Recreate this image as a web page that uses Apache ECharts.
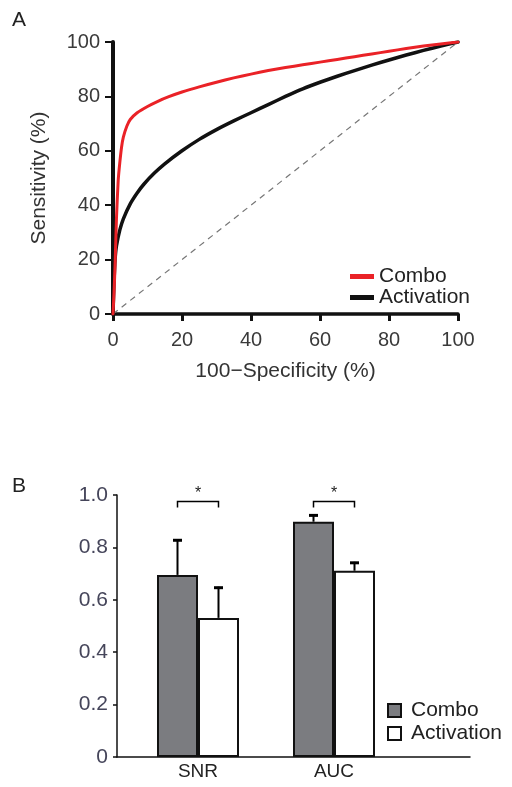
<!DOCTYPE html>
<html>
<head>
<meta charset="utf-8">
<script src="https://cdn.jsdelivr.net/npm/echarts@6/dist/echarts.min.js"></script>
<style>html,body{margin:0;padding:0;background:#fff}#c{width:512px;height:787px}</style>
</head>
<body>
<div id="c"></div>
<script>
// ---- Panel A: ROC curves ----
const comboFpr = [0, 0.3, 0.6, 1, 1.5, 2, 2.5, 3, 4, 5, 7, 10, 13, 16, 20, 25, 30, 35, 40, 45, 50, 55, 60, 65, 70, 75, 80, 85, 90, 95, 100];
const comboTpr = [0, 8, 18, 35, 49, 56, 61.5, 65, 69, 71.5, 74, 76.3, 78.2, 79.8, 81.6, 83.5, 85.2, 86.8, 88.2, 89.5, 90.6, 91.6, 92.6, 93.6, 94.6, 95.6, 96.6, 97.6, 98.5, 99.3, 100];
const actFpr = [0, 0.3, 0.6, 1, 2, 3, 5, 7, 9, 12, 15, 20, 25, 30, 35, 40, 45, 50, 55, 60, 65, 70, 75, 80, 85, 90, 95, 100];
const actTpr = [0, 12, 20, 25, 31, 35, 40.5, 44.5, 47.8, 51.8, 55.2, 60, 64.2, 67.8, 71, 74, 77, 80, 82.8, 85.2, 87.4, 89.5, 91.5, 93.4, 95.2, 96.9, 98.5, 100];
const chanceX = [0, 100];
const chanceY = [0, 100];
const rocTicks = [0, 20, 40, 60, 80, 100];

// ---- Panel B: bars ----
const categories = ['SNR', 'AUC'];
const comboMean = [0.695, 0.898];
const comboErr = [0.136, 0.028];
const actMean = [0.531, 0.711];
const actErr = [0.119, 0.034];
const sigLevel = [0.975, 0.975];
const sigMark = ['*', '*'];
const barTicks = [0, 0.2, 0.4, 0.6, 0.8, 1.0];

const zip = (a, b) => a.map((v, i) => [v, b[i]]);
const FONT = 'Liberation Sans, Arial, sans-serif';
const BW = 41;

function errRender(off) {
  return function (params, api) {
    const i = api.value(0), m = api.value(1), e = api.value(2);
    const base = api.coord([i, m]);
    const top = api.coord([i, m + e]);
    const x = base[0] + off;
    return {
      type: 'group',
      children: [
        { type: 'line', shape: { x1: x, y1: base[1], x2: x, y2: top[1] }, style: { stroke: '#000', lineWidth: 2 } },
        { type: 'line', shape: { x1: x - 4.5, y1: top[1] + 1, x2: x + 4.5, y2: top[1] + 1 }, style: { stroke: '#000', lineWidth: 3 } }
      ]
    };
  };
}

function sigRender(params, api) {
  const i = api.value(0), y = api.value(1);
  const c = api.coord([i, y]);
  const xl = c[0] - BW / 2, xr = c[0] + BW / 2;
  return {
    type: 'group',
    children: [
      { type: 'polyline', shape: { points: [[xl, c[1] + 6], [xl, c[1]], [xr, c[1]], [xr, c[1] + 6]] }, style: { stroke: '#000', lineWidth: 1.5, fill: null } },
      { type: 'text', style: { text: sigMark[params.dataIndex], x: c[0], y: c[1] - 8, align: 'center', verticalAlign: 'middle', font: '16px ' + FONT, fill: '#222' } }
    ]
  };
}

const chart = echarts.init(document.getElementById('c'), null, { renderer: 'canvas' });
chart.setOption({
  animation: false,
  backgroundColor: '#fff',
  textStyle: { fontFamily: FONT },
  title: [
    { text: 'A', left: 7, top: 5, textStyle: { fontSize: 21, fontWeight: 'normal', color: '#222', fontFamily: FONT } },
    { text: 'B', left: 7, top: 471, textStyle: { fontSize: 21, fontWeight: 'normal', color: '#222', fontFamily: FONT } }
  ],
  legend: [
    {
      data: ['Combo', 'Activation'], orient: 'vertical', left: 350, top: 266, padding: 0,
      itemWidth: 24, itemHeight: 5, itemGap: 0, icon: 'rect',
      textStyle: { fontSize: 21, lineHeight: 18, color: '#222', fontFamily: FONT }
    },
    {
      data: ['Combo bar', 'Activation bar'], orient: 'vertical', left: 387, top: 699, padding: 0,
      itemWidth: 13, itemHeight: 13, itemGap: 0, icon: 'rect',
      formatter: n => n.replace(' bar', ''),
      textStyle: { fontSize: 21, lineHeight: 23, color: '#222', fontFamily: FONT, padding: [0, 0, 0, 5] }
    }
  ],
  grid: [
    { left: 113, top: 42, width: 345, height: 272 },
    { left: 130, top: 495, width: 272, height: 262 },
    { left: 117, top: 495, width: 353, height: 262 }
  ],
  xAxis: [
    {
      gridIndex: 0, type: 'value', min: 0, max: 100, interval: 20,
      name: '100\u2212Specificity (%)', nameLocation: 'middle', nameGap: 47,
      nameTextStyle: { fontSize: 21, color: '#333', fontFamily: FONT },
      axisLine: { lineStyle: { color: '#111', width: 3.5 } },
      axisTick: { length: 7, lineStyle: { color: '#111', width: 3 } },
      axisLabel: { fontSize: 20, color: '#3a3a3a', margin: 16, fontFamily: FONT },
      splitLine: { show: false }
    },
    {
      gridIndex: 1, type: 'category', data: categories,
      axisLine: { show: false }, axisTick: { show: false },
      axisLabel: { fontSize: 19, color: '#222', margin: 5, fontFamily: FONT },
      splitLine: { show: false }
    },
    {
      gridIndex: 2, type: 'value', min: 0, max: 1,
      axisLine: { lineStyle: { color: '#111', width: 1.5 } },
      axisTick: { show: false }, axisLabel: { show: false }, splitLine: { show: false }
    }
  ],
  yAxis: [
    {
      gridIndex: 0, type: 'value', min: 0, max: 100, interval: 20,
      name: 'Sensitivity (%)', nameLocation: 'middle', nameGap: 63, nameRotate: 90,
      nameTextStyle: { fontSize: 21, color: '#333', fontFamily: FONT },
      axisLine: { lineStyle: { color: '#111', width: 4 } },
      axisTick: { length: 8, lineStyle: { color: '#111', width: 2 } },
      axisLabel: { fontSize: 20, color: '#3a3a3a', margin: 13, fontFamily: FONT },
      splitLine: { show: false }
    },
    {
      gridIndex: 1, type: 'value', min: 0, max: 1, show: false
    },
    {
      gridIndex: 2, type: 'value', min: 0, max: 1, interval: 0.2,
      axisLine: { show: true, lineStyle: { color: '#111', width: 1.5 } },
      axisTick: { show: true, length: 4, lineStyle: { color: '#111', width: 1.5 } },
      axisLabel: { fontSize: 21, color: '#45455a', margin: 9, fontFamily: FONT, formatter: v => v === 0 ? '0' : v.toFixed(1) },
      splitLine: { show: false }
    }
  ],
  series: [
    {
      type: 'line', name: 'chance', xAxisIndex: 0, yAxisIndex: 0, data: zip(chanceX, chanceY),
      symbol: 'none', lineStyle: { color: '#777', width: 1.2, type: [6, 5] }, z: 1, silent: true
    },
    {
      type: 'line', name: 'Activation', xAxisIndex: 0, yAxisIndex: 0, data: zip(actFpr, actTpr),
      symbol: 'none', smooth: 0.2,
      itemStyle: { color: '#111' }, lineStyle: { color: '#111', width: 3.5, join: 'round', cap: 'round' }, z: 3
    },
    {
      type: 'line', name: 'Combo', xAxisIndex: 0, yAxisIndex: 0, data: zip(comboFpr, comboTpr),
      symbol: 'none', smooth: 0.2,
      itemStyle: { color: '#ea2227' }, lineStyle: { color: '#ea2227', width: 3, join: 'round', cap: 'round' }, z: 4
    },
    {
      type: 'bar', name: 'Combo bar', xAxisIndex: 1, yAxisIndex: 1, data: comboMean,
      barWidth: BW, barGap: '0%',
      itemStyle: { color: '#7b7c80', borderColor: '#111', borderWidth: 2 }
    },
    {
      type: 'bar', name: 'Activation bar', xAxisIndex: 1, yAxisIndex: 1, data: actMean,
      barWidth: BW, barGap: '0%',
      itemStyle: { color: '#fff', borderColor: '#111', borderWidth: 2 }
    },
    {
      type: 'custom', name: 'comboErr', xAxisIndex: 1, yAxisIndex: 1,
      data: categories.map((c, i) => [i, comboMean[i], comboErr[i]]),
      renderItem: errRender(-BW / 2), z: 5, encode: { x: 0, y: 1 }
    },
    {
      type: 'custom', name: 'actErr', xAxisIndex: 1, yAxisIndex: 1,
      data: categories.map((c, i) => [i, actMean[i], actErr[i]]),
      renderItem: errRender(BW / 2), z: 5, encode: { x: 0, y: 1 }
    },
    {
      type: 'custom', name: 'sig', xAxisIndex: 1, yAxisIndex: 1,
      data: categories.map((c, i) => [i, sigLevel[i]]),
      renderItem: sigRender, z: 5, encode: { x: 0, y: 1 }
    }
  ]
});
</script>
</body>
</html>
